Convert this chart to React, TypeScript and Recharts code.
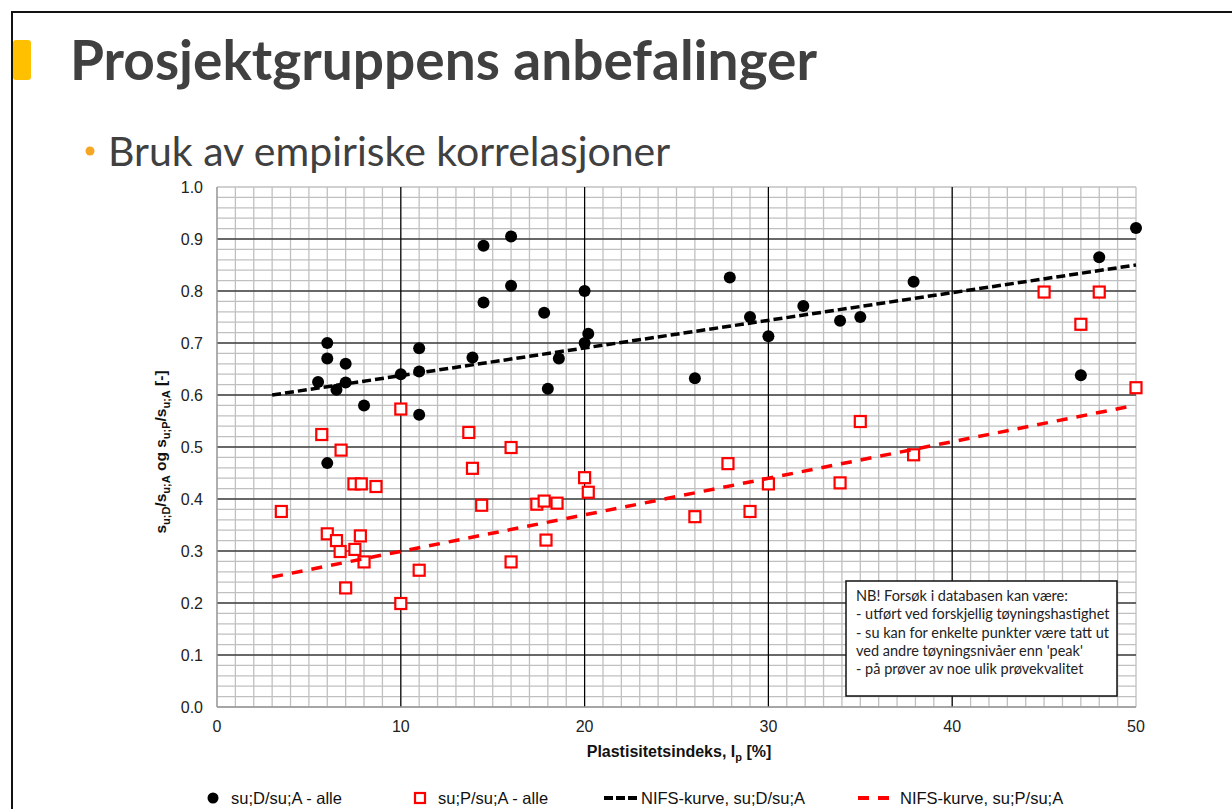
import React from 'react';
import {
  ScatterChart, Scatter, XAxis, YAxis, CartesianGrid, ReferenceLine, Legend
} from 'recharts';

// su;D/su;A - alle (svarte punkter)
const dIp = [5.5, 6, 6, 6, 6.5, 7, 7, 8, 10, 11, 11, 11, 13.9, 14.5, 14.5, 16, 16, 17.8, 18, 18.6, 20, 20, 20.2, 26, 27.9, 29, 30, 31.9, 33.9, 35, 37.9, 47, 48, 50];
const dRatio = [0.625, 0.70, 0.67, 0.469, 0.61, 0.66, 0.624, 0.58, 0.64, 0.69, 0.645, 0.562, 0.672, 0.887, 0.778, 0.905, 0.81, 0.758, 0.612, 0.67, 0.80, 0.70, 0.718, 0.632, 0.826, 0.75, 0.713, 0.771, 0.743, 0.75, 0.818, 0.638, 0.865, 0.921];

// su;P/su;A - alle (røde kvadrater)
const pIp = [3.5, 5.7, 6, 6.5, 6.7, 6.75, 7, 7.45, 7.5, 7.8, 7.85, 8, 8.65, 10, 10, 11, 13.7, 13.9, 14.4, 16, 16, 17.4, 17.8, 17.9, 18.5, 20, 20.2, 26, 27.8, 29, 30, 33.9, 35, 37.9, 45, 47, 48, 50];
const pRatio = [0.376, 0.524, 0.333, 0.32, 0.299, 0.494, 0.229, 0.429, 0.303, 0.329, 0.429, 0.279, 0.424, 0.573, 0.199, 0.263, 0.528, 0.459, 0.388, 0.499, 0.279, 0.39, 0.396, 0.321, 0.392, 0.441, 0.413, 0.366, 0.468, 0.376, 0.429, 0.431, 0.549, 0.485, 0.798, 0.736, 0.798, 0.614];

// NIFS-kurver
const nifsDIp = [3, 50];
const nifsD = [0.6, 0.85];
const nifsPIp = [3, 49.5];
const nifsP = [0.25, 0.577];

const seriesNames = ['su;D/su;A - alle', 'su;P/su;A - alle', 'NIFS-kurve, su;D/su;A', 'NIFS-kurve, su;P/su;A'];

const xTicks = Array.from({ length: 51 }, (_, i) => i);
const yTicks = Array.from({ length: 51 }, (_, i) => +(i * 0.02).toFixed(2));
const majorX = [10, 20, 30, 40];
const majorY = [0.1, 0.2, 0.3, 0.4, 0.5, 0.6, 0.7, 0.8, 0.9];

const noteLines = [
  'NB! Forsøk i databasen kan være:',
  '- utført ved forskjellig tøyningshastighet',
  '- su kan for enkelte punkter være tatt ut',
  "ved andre tøyningsnivåer enn 'peak'",
  '- på prøver av noe ulik prøvekvalitet',
];

const zip = (xs: number[], ys: number[]) => xs.map((x, i) => ({ x, y: ys[i] }));

const FONT = '"Liberation Sans", Arial, sans-serif';

const Dot = (p: any) => <circle cx={p.cx} cy={p.cy} r={6} fill="#000" />;
const Box = (p: any) => (
  <rect x={p.cx - 5.5} y={p.cy - 5.5} width={11} height={11} fill="#fff" stroke="#ff0000" strokeWidth={2.2} />
);
const NoShape = () => <g />;

const legendX = [205, 413, 604, 858];
const legendTextX = [231, 438, 641, 900];

const renderLegend = (props: any) => {
  const items = props.payload || [];
  return (
    <svg width={1232} height={24} style={{ display: 'block' }}>
      {items.map((it: any) => {
        const i = seriesNames.indexOf(it.value);
        if (i < 0) return null;
        return (
          <g key={i}>
            {i === 0 && <circle cx={legendX[0] + 8} cy={12} r={5.5} fill="#000" />}
            {i === 1 && <rect x={legendX[1] + 2} y={7} width={10} height={10} fill="#fff" stroke="#ff0000" strokeWidth={2.2} />}
            {i === 2 && <line x1={legendX[2]} x2={legendX[2] + 36} y1={12} y2={12} stroke="#000" strokeWidth={4} strokeDasharray="9 3" />}
            {i === 3 && <line x1={legendX[3]} x2={legendX[3] + 35} y1={12} y2={12} stroke="#ff0000" strokeWidth={4} strokeDasharray="11 9" />}
            <text x={legendTextX[i]} y={18} fontFamily={FONT} fontSize={16.5} fill="#111">{it.value}</text>
          </g>
        );
      })}
    </svg>
  );
};

const App: React.FC = () => {
  return (
    <div style={{ position: 'absolute', left: 0, top: 0, width: 1232, height: 809, background: '#fff', overflow: 'hidden' }}>
      <ScatterChart width={1232} height={809} margin={{ top: 187, right: 96, bottom: 72, left: 157 }}>
        <CartesianGrid stroke="#c0c0c0" strokeWidth={1.3} />
        <XAxis
          dataKey="x" type="number" domain={[0, 50]} ticks={xTicks} interval={0}
          tickFormatter={(v: number) => (v % 10 === 0 ? String(v) : '')}
          tick={{ fontSize: 16, fill: '#222', fontFamily: FONT }}
          tickLine={false} tickMargin={8} axisLine={{ stroke: '#999', strokeWidth: 1.3 }} height={30}
        />
        <YAxis
          dataKey="y" type="number" domain={[0, 1]} ticks={yTicks} interval={0}
          tickFormatter={(v: number) => (Math.round(v * 100) % 10 === 0 ? v.toFixed(1) : '')}
          tick={{ fontSize: 16, fill: '#222', fontFamily: FONT }}
          tickLine={false} tickMargin={8} axisLine={{ stroke: '#999', strokeWidth: 1.3 }} width={60}
        />
        {majorX.map((v) => <ReferenceLine key={'x' + v} x={v} stroke="#000" strokeWidth={1.2} />)}
        {majorY.map((v) => <ReferenceLine key={'y' + v} y={v} stroke="#000" strokeWidth={1.2} />)}
        <Scatter name={seriesNames[0]} data={zip(dIp, dRatio)} shape={Dot} isAnimationActive={false} />
        <Scatter name={seriesNames[1]} data={zip(pIp, pRatio)} shape={Box} isAnimationActive={false} />
        <Scatter
          name={seriesNames[2]} data={zip(nifsDIp, nifsD)} shape={NoShape} fill="#000"
          line={{ stroke: '#000', strokeWidth: 3.5, strokeDasharray: '9 4' }} isAnimationActive={false}
        />
        <Scatter
          name={seriesNames[3]} data={zip(nifsPIp, nifsP)} shape={NoShape} fill="#ff0000"
          line={{ stroke: '#ff0000', strokeWidth: 3.5, strokeDasharray: '11 9' }} isAnimationActive={false}
        />
        <Legend
          layout="horizontal" verticalAlign="middle" align="center" content={renderLegend}
          wrapperStyle={{ position: 'absolute', left: 0, top: 786, width: 1232, height: 24 }}
        />
      </ScatterChart>

      <svg width={1232} height={809} style={{ position: 'absolute', left: 0, top: 0, pointerEvents: 'none' }}>
        <line x1={11} y1={12} x2={1232} y2={12} stroke="#111" strokeWidth={2} />
        <line x1={12} y1={11} x2={12} y2={809} stroke="#111" strokeWidth={2} />
        <rect x={13} y={40} width={18} height={40} rx={3} fill="#ffc000" />
        <text x={70} y={80} fontFamily="Lato, sans-serif" fontWeight={700} fontSize={55} fill="#404040">
          Prosjektgruppens anbefalinger
        </text>
        <circle cx={90} cy={151} r={4.5} fill="#f5a623" />
        <text x={108} y={166} fontFamily="Lato, sans-serif" fontSize={41} fill="#404040">
          Bruk av empiriske korrelasjoner
        </text>

        <text x={679} y={757} textAnchor="middle" fontFamily={FONT} fontWeight={700} fontSize={16} fill="#111">
          Plastisitetsindeks, I<tspan dy={4} fontSize={11}>p</tspan><tspan dy={-4}> [%]</tspan>
        </text>
        <text transform="translate(166,452) rotate(-90)" textAnchor="middle" fontFamily={FONT} fontWeight={700} fontSize={15.5} fill="#111">
          s<tspan dy={4} fontSize={11}>u;D</tspan>
          <tspan dy={-4}>/s</tspan><tspan dy={4} fontSize={11}>u;A</tspan>
          <tspan dy={-4}> og s</tspan><tspan dy={4} fontSize={11}>u;P</tspan>
          <tspan dy={-4}>/s</tspan><tspan dy={4} fontSize={11}>u;A</tspan>
          <tspan dy={-4}>  [-]</tspan>
        </text>

        <rect x={846} y={581} width={271} height={115} fill="#fff" stroke="#111" strokeWidth={1.5} />
        {noteLines.map((t, i) => (
          <text key={i} x={856} y={601 + i * 18.3} fontFamily="Lato, sans-serif" fontSize={14.5} fill="#222">{t}</text>
        ))}
      </svg>
    </div>
  );
};

export default App;
